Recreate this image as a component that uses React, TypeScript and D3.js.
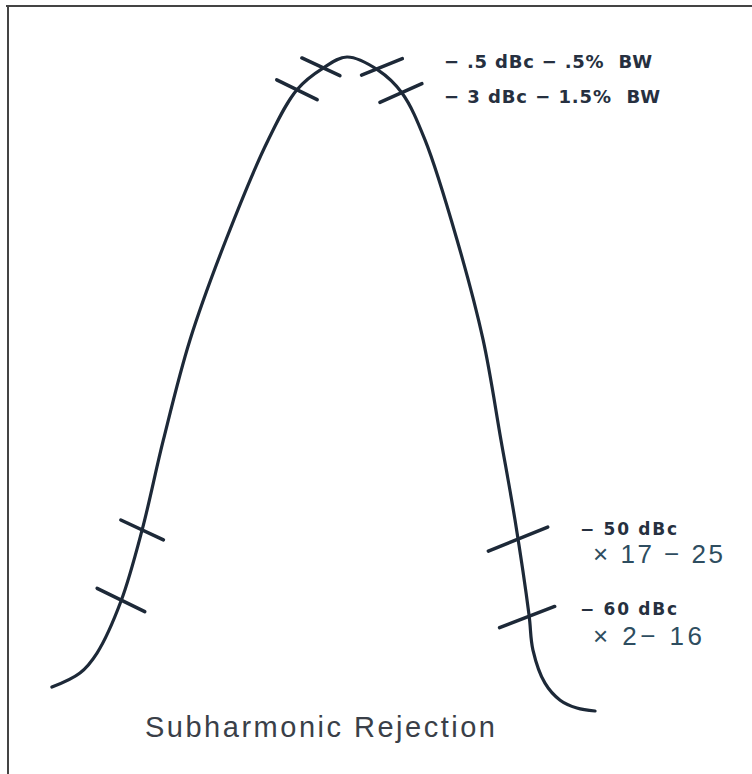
import React from 'react';
import * as d3 from 'd3';

// response curve: relative frequency (-1..1) vs relative level (0..100)
const curveX = [-0.993, -0.891, -0.829, -0.742, -0.665, -0.588, -0.491, -0.36, -0.207, -0.102, -0.007, 0.08, 0.193, 0.28, 0.364, 0.48, 0.575, 0.64, 0.691, 0.742, 0.756, 0.8, 0.855, 0.916, 0.982];
const curveY = [3.8, 5.95, 9.0, 16.9, 27.8, 41.5, 56.8, 72.1, 87.3, 95.0, 98.3, 100, 98.0, 94.5, 87.3, 72.1, 56.8, 41.5, 29.3, 14.8, 9.5, 4.4, 1.8, 0.6, 0.15];

// tick marks crossing the curve
const tickX = [-0.015, -0.102, 0.207, 0.276, -0.665, -0.742, 0.702, 0.735];
const tickY = [98.5, 95.0, 98.5, 94.5, 27.8, 17.1, 26.4, 14.5];
const tickAngle = [25, 26, -22, -24, 25, 26, -22, -21];
const tickLen = [42, 45, 44, 46, 47, 53, 64, 59];

const topLabels = ['− .5 dBc − .5%  BW', '− 3 dBc − 1.5%  BW'];
const levelLabels = ['− 50 dBc', '− 60 dBc'];
const rangeLabels = ['× 17 − 25', '× 2− 16'];
const title = 'Subharmonic Rejection';

const width = 752;
const height = 774;

const App: React.FC = () => {
  const x = d3.scaleLinear().domain([-1, 1]).range([50, 600]);
  const y = d3.scaleLinear().domain([0, 100]).range([712, 57]);

  const pts: [number, number][] = curveX.map((v, i) => [v, curveY[i]]);
  const line = d3.line<[number, number]>()
    .x(d => x(d[0]))
    .y(d => y(d[1]))
    .curve(d3.curveCatmullRom.alpha(0.5));

  const ink = '#1d2938';
  const boldFont = "'DejaVu Sans', Verdana, sans-serif";

  return (
    <svg
      width={width}
      height={height}
      style={{ position: 'absolute', left: 0, top: 0, background: '#ffffff' }}
      fontFamily="'Liberation Sans', Arial, sans-serif"
    >
      {/* frame (only top and left edges show) */}
      <line x1={6} y1={6} x2={width} y2={6} stroke="#444" strokeWidth={2} />
      <line x1={8} y1={6} x2={8} y2={height} stroke="#444" strokeWidth={2} />

      <path d={line(pts) || ''} fill="none" stroke={ink} strokeWidth={3.2} strokeLinecap="round" />

      {tickX.map((tx, i) => {
        const cx = x(tx);
        const cy = y(tickY[i]);
        const a = (tickAngle[i] * Math.PI) / 180;
        const h = tickLen[i] / 2;
        return (
          <line
            key={i}
            x1={cx - h * Math.cos(a)}
            y1={cy - h * Math.sin(a)}
            x2={cx + h * Math.cos(a)}
            y2={cy + h * Math.sin(a)}
            stroke={ink}
            strokeWidth={3.5}
            strokeLinecap="round"
          />
        );
      })}

      {topLabels.map((t, i) => (
        <text
          key={t}
          x={444}
          y={68 + i * 35}
          fontFamily={boldFont}
          fontSize={18}
          fontWeight="bold"
          fill="#263040"
          textLength={i === 0 ? 208 : 216}
          lengthAdjust="spacing"
          style={{ whiteSpace: 'pre' }}
        >
          {t}
        </text>
      ))}

      {levelLabels.map((t, i) => (
        <g key={t}>
          <text
            x={580}
            y={535 + i * 80}
            fontFamily={boldFont}
            fontSize={17}
            fontWeight="bold"
            fill="#263040"
            textLength={97}
            lengthAdjust="spacing"
          >
            {t}
          </text>
          <text
            x={593}
            y={563 + i * 82}
            fontSize={26}
            fill="#2e4d60"
            textLength={i === 0 ? 130 : 109}
            lengthAdjust="spacing"
          >
            {rangeLabels[i]}
          </text>
        </g>
      ))}

      <text
        x={145}
        y={737}
        fontSize={29}
        fill="#3a3f48"
        textLength={350}
        lengthAdjust="spacing"
      >
        {title}
      </text>
    </svg>
  );
};

export default App;
